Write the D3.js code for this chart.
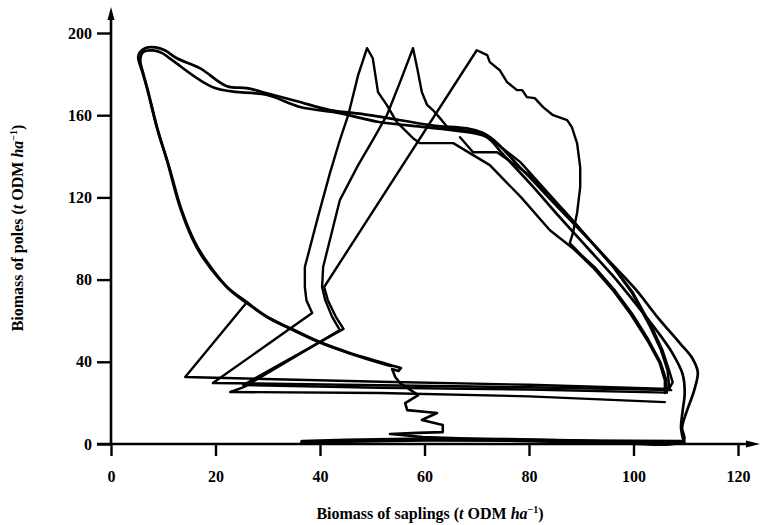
<!DOCTYPE html>
<html>
<head>
<meta charset="utf-8">
<script src="https://cdn.jsdelivr.net/npm/d3@7"></script>
<style>
  body { margin: 0; background: #fff; }
  svg text { font-family: "Liberation Serif", "DejaVu Serif", serif; fill: #000; }
</style>
</head>
<body>
<div id="chart"></div>
<script>
// Graduations des axes
const xTicks = [0, 20, 40, 60, 80, 100, 120];
const yTicks = [0, 40, 80, 120, 160, 200];

// Cycle principal (arc extérieur, ligne du haut, grande courbe de gauche)
const cycleA = [
  [70.6, 2.4], [90, 1.6], [109.6, 1.6], [109.3, 8], [110.2, 16], [111.6, 26], [112.3, 35], [111.2, 42],
  [108.9, 49], [104.5, 62], [100.5, 75], [95, 90], [89.8, 104], [84.5, 118], [78.5, 134], [71.2, 151.3],
  [61, 155.2], [48.2, 160.5], [41.9, 162.5], [35.6, 166.8], [29.1, 171.2], [26, 173.2], [22.2, 174.1],
  [17, 182.9], [12.6, 187.7], [10.3, 191.6], [8.5, 193], [6.5, 192.6], [5.5, 190.5], [5.2, 188.2],
  [6, 181], [6.9, 173.6], [8.8, 154.2], [10.7, 138.1], [13.2, 115.3], [15.7, 99.2], [17.9, 89.5],
  [22.2, 76.4], [26, 69], [29.9, 61.8], [34.3, 56.4], [40, 49.6], [45.7, 44.3], [51.5, 39.9], [53.4, 38.4]
];

// Deuxième passage du cycle, presque confondu avec le premier
const cycleB = [
  [109.6, 1.5], [109.1, 8], [109.4, 16], [109.8, 25], [109.4, 34], [107.5, 44], [104.5, 55], [100.5, 68],
  [96, 82], [91, 96], [86, 110], [80.5, 126], [75, 141], [71.8, 149.5], [66, 152.5], [60, 154.2],
  [51, 156.8], [43.8, 161], [36.2, 164], [29.9, 169.8], [19.9, 173.2], [11.7, 186.8], [9.8, 190.2],
  [8, 191.5], [6.2, 190.8], [5.6, 187], [6.2, 180], [7, 172], [9, 152], [11, 136], [13.5, 114], [16, 98.5],
  [18.4, 88.5], [22.5, 75.5], [26.3, 68], [30.2, 61.3], [34.5, 55.8], [40.2, 49.1], [46, 43.8],
  [51.5, 39.4], [53.6, 38]
];

// Descente en zigzag vers l'axe des abscisses
const wiggle = [
  [53.4, 38.4], [55.5, 37], [55, 35.5], [53.8, 36.5], [54.4, 32.6], [55.3, 29.7], [58.8, 23.8],
  [56.3, 19.9], [56.7, 16.5], [62.4, 15.1], [59.5, 11.7], [63.5, 9.2], [63.5, 5.8], [58.6, 5.4],
  [53.4, 4.9], [59.7, 3.4], [70.6, 2.4]
];

// Passage le long de l'axe (poles ~ 0)
const axisRun = [[36.6, 1], [45, 1.6], [60, 2.2], [76, 2], [90, 1.2], [109.6, 1]];

// Trajectoire qui rejoint la grande courbe
const spike0 = [
  [66.8, 149.3], [69.3, 142], [73.9, 142], [80, 131], [87.6, 111], [96.4, 85.5], [99.8, 74], [103.3, 58],
  [105.5, 46], [106.8, 36], [107.5, 30], [106.8, 26.8], [80, 28.8], [51.5, 30.3], [14.2, 32.6], [26, 69]
];

// Pic à x ~ 49
const spike1 = [
  [107.2, 26.2], [80, 27.6], [51.5, 28.6], [19.5, 29.7], [38.5, 63.7], [37.4, 70], [37.1, 76.4], [37.1, 86.1],
  [39.6, 110.4], [41.9, 131.8], [43.8, 147.9], [45.4, 160], [47.3, 179.5], [49, 192.6], [50.1, 187.7],
  [51.1, 171.2], [52.8, 164.9], [54.7, 156.6], [57.8, 148.8], [59.1, 146.4], [65.5, 146.4], [72.5, 135.7],
  [78.5, 120], [84, 104], [88.5, 95], [92.2, 86], [96, 75], [99.5, 63], [102.6, 50.6], [105, 39.4],
  [106, 31], [106, 24.8]
];

// Pic à x ~ 58
const spike2 = [
  [106, 20.4], [80, 23.2], [51.5, 24.8], [22.8, 25.3], [25.5, 27.8], [43.8, 55.4], [42.3, 62], [41, 70],
  [40.4, 76.4], [40.6, 86.1], [43.8, 118.7], [47.3, 135.7], [50.1, 147.9], [52.8, 160], [55.3, 176],
  [57.8, 192.6], [58.6, 183], [59.5, 171.2], [60.5, 165], [61.6, 162.5], [63.3, 157.6], [64.5, 153.8],
  [71.2, 151.3], [78.3, 137.3], [87.2, 112.2], [96.1, 86.1], [99.6, 74], [103, 58], [105.2, 46],
  [106.5, 36], [106.9, 27]
];

// Pic à x ~ 70 avec la bosse de droite
const spike3 = [
  [106.4, 25], [80, 26.5], [51.5, 27.4], [25.3, 28.7], [44.5, 56], [43, 62], [41.5, 70], [40.8, 76.4],
  [70, 191.6], [72, 189.2], [72.5, 185.8], [74.4, 181.9], [75.8, 176.1], [77.7, 172.2], [78.7, 172.2],
  [79.6, 168.8], [81.1, 168.3], [82.7, 163.9], [84.6, 160], [87.3, 157.6], [88.2, 154.2], [89.2, 146.4],
  [89.8, 134.7], [89.8, 125], [89.2, 112.4], [88.4, 102.6], [87.8, 97.8], [90, 92], [92.6, 86],
  [96.3, 75.2], [99.8, 63.2], [102.8, 51], [105.2, 39.6], [106.3, 31], [106.4, 25]
];

let margin = { left: 111, right: 23, top: 33, bottom: 81 };
let width = 761, height = 525;

let svg = d3.select("#chart")
  .append("svg")
  .attr("width", width)
  .attr("height", height);

let x = d3.scaleLinear().domain([0, 120]).range([margin.left, width - margin.right]);
let y = d3.scaleLinear().domain([0, 200]).range([height - margin.bottom, margin.top]);

// On trace les trajectoires (les cycles sont lissés, les pics gardent leurs angles)
let trajectories = [
  { pts: axisRun, w: 4.4, smooth: false },
  { pts: cycleA, w: 2.7, smooth: true },
  { pts: cycleB, w: 2.7, smooth: true },
  { pts: wiggle, w: 2.6, smooth: false },
  { pts: spike0, w: 2.4, smooth: false },
  { pts: spike1, w: 2.4, smooth: false },
  { pts: spike2, w: 2.4, smooth: false },
  { pts: spike3, w: 2.4, smooth: false }
];

let lineStraight = d3.line()
  .x(function(d) { return x(d[0]); })
  .y(function(d) { return y(d[1]); });
let lineSmooth = d3.line()
  .x(function(d) { return x(d[0]); })
  .y(function(d) { return y(d[1]); })
  .curve(d3.curveCatmullRom.alpha(0.5));

svg.append("g")
  .selectAll("path")
  .data(trajectories)
  .enter()
  .append("path")
  .attr("d", function(d) { return d.smooth ? lineSmooth(d.pts) : lineStraight(d.pts); })
  .attr("fill", "none")
  .attr("stroke", "#000")
  .attr("stroke-width", function(d) { return d.w; })
  .attr("stroke-linejoin", "round")
  .attr("stroke-linecap", "round");

// Axe vertical
let x0 = x(0), y0 = y(0);
let yAxis = svg.append("g")
  .attr("transform", "translate(" + x0 + ",0)")
  .call(d3.axisLeft(y).tickValues(yTicks).tickSize(14).tickPadding(5).tickSizeOuter(0));
yAxis.select(".domain").remove();

// Axe horizontal
let xAxis = svg.append("g")
  .attr("transform", "translate(0," + y0 + ")")
  .call(d3.axisBottom(x).tickValues(xTicks).tickSize(12).tickPadding(15).tickSizeOuter(0));
xAxis.select(".domain").remove();

svg.selectAll(".tick line")
  .attr("stroke", "#000")
  .attr("stroke-width", 2.4);
svg.selectAll(".tick text")
  .attr("font-family", "Liberation Serif, serif")
  .attr("font-weight", "bold")
  .attr("font-size", 16);

// Lignes des axes avec flèches
svg.append("line")
  .attr("x1", x0).attr("y1", y0 + 1)
  .attr("x2", x0).attr("y2", 16)
  .attr("stroke", "#000").attr("stroke-width", 2.6);
svg.append("path")
  .attr("d", "M" + x0 + ",7 L" + (x0 - 3.5) + ",20 L" + (x0 + 3.5) + ",20 Z")
  .attr("fill", "#000");

svg.append("line")
  .attr("x1", x0 - 14).attr("y1", y0)
  .attr("x2", 750).attr("y2", y0)
  .attr("stroke", "#000").attr("stroke-width", 2.6);
svg.append("path")
  .attr("d", "M760," + y0 + " L746," + (y0 - 3.5) + " L746," + (y0 + 3.5) + " Z")
  .attr("fill", "#000");

// Titres des axes
function title(sel, label) {
  sel.append("tspan").text(label + " (");
  sel.append("tspan").attr("font-style", "italic").text("t");
  sel.append("tspan").text(" ODM ");
  sel.append("tspan").attr("font-style", "italic").text("ha");
  sel.append("tspan").attr("font-size", 10).attr("dy", -6).text("\u22121");
  sel.append("tspan").attr("dy", 6).text(")");
}

let xt = svg.append("text")
  .attr("x", 430)
  .attr("y", 519)
  .attr("text-anchor", "middle")
  .attr("font-weight", "bold")
  .attr("font-size", 16);
title(xt, "Biomass of saplings");

let yt = svg.append("text")
  .attr("transform", "translate(23,228) rotate(-90)")
  .attr("text-anchor", "middle")
  .attr("font-weight", "bold")
  .attr("font-size", 16);
title(yt, "Biomass of poles");
</script>
</body>
</html>
